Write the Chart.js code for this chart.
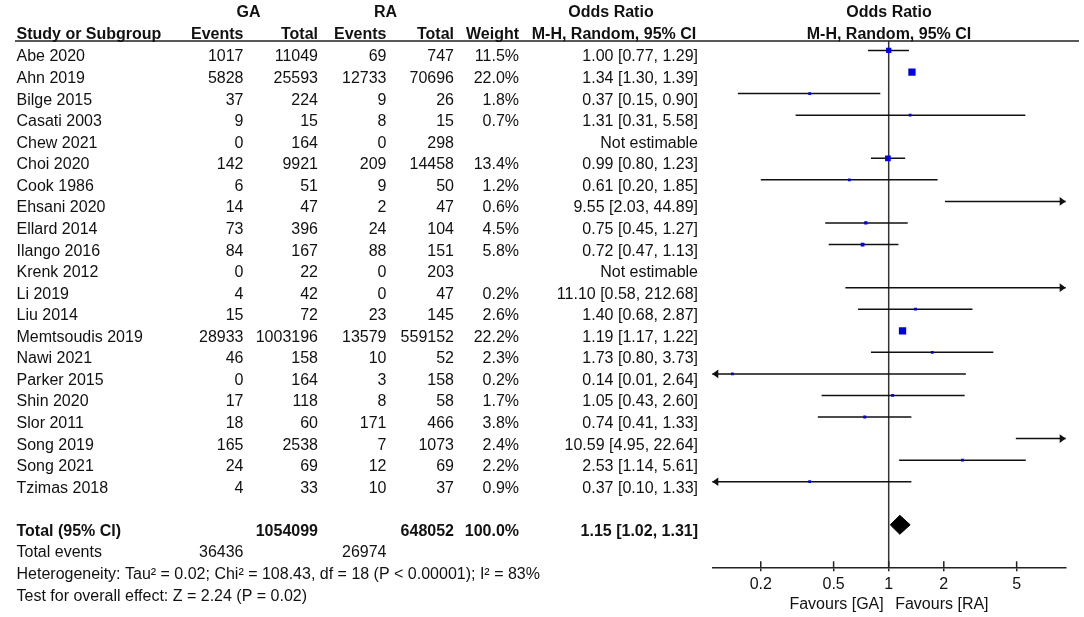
<!DOCTYPE html>
<html>
<head>
<meta charset="utf-8">
<title>Forest plot GA vs RA</title>
<script src="https://cdn.jsdelivr.net/npm/chart.js@4.4.1/dist/chart.umd.min.js"></script>
<style>
  html, body { margin: 0; padding: 0; background: #fff; }
  #wrap { width: 1084px; height: 617px; }
</style>
</head>
<body>
<div id="wrap"><canvas id="forest" width="1084" height="617"></canvas></div>
<script>
const studies = ['Abe 2020', 'Ahn 2019', 'Bilge 2015', 'Casati 2003', 'Chew 2021', 'Choi 2020',
  'Cook 1986', 'Ehsani 2020', 'Ellard 2014', 'Ilango 2016', 'Krenk 2012', 'Li 2019', 'Liu 2014',
  'Memtsoudis 2019', 'Nawi 2021', 'Parker 2015', 'Shin 2020', 'Slor 2011', 'Song 2019',
  'Song 2021', 'Tzimas 2018'];
const gaEvents = [1017, 5828, 37, 9, 0, 142, 6, 14, 73, 84, 0, 4, 15, 28933, 46, 0, 17, 18, 165, 24, 4];
const gaTotal = [11049, 25593, 224, 15, 164, 9921, 51, 47, 396, 167, 22, 42, 72, 1003196, 158, 164, 118, 60, 2538, 69, 33];
const raEvents = [69, 12733, 9, 8, 0, 209, 9, 2, 24, 88, 0, 0, 23, 13579, 10, 3, 8, 171, 7, 12, 10];
const raTotal = [747, 70696, 26, 15, 298, 14458, 50, 47, 104, 151, 203, 47, 145, 559152, 52, 158, 58, 466, 1073, 69, 37];
// weight in %, null = not estimable
const weights = [11.5, 22.0, 1.8, 0.7, null, 13.4, 1.2, 0.6, 4.5, 5.8, null, 0.2, 2.6, 22.2, 2.3, 0.2, 1.7, 3.8, 2.4, 2.2, 0.9];
const orEst = [1.00, 1.34, 0.37, 1.31, null, 0.99, 0.61, 9.55, 0.75, 0.72, null, 11.10, 1.40, 1.19, 1.73, 0.14, 1.05, 0.74, 10.59, 2.53, 0.37];
const orLow = [0.77, 1.30, 0.15, 0.31, null, 0.80, 0.20, 2.03, 0.45, 0.47, null, 0.58, 0.68, 1.17, 0.80, 0.01, 0.43, 0.41, 4.95, 1.14, 0.10];
const orHigh = [1.29, 1.39, 0.90, 5.58, null, 1.23, 1.85, 44.89, 1.27, 1.13, null, 212.68, 2.87, 1.22, 3.73, 2.64, 2.60, 1.33, 22.64, 5.61, 1.33];

const totalLabel = 'Total (95% CI)';
const totalParticipants = [1054099, 648052];
const totalWeight = 100.0;
const pooledOR = [1.15, 1.02, 1.31]; // estimate, lower, upper
const totalEvents = [36436, 26974];
const heterogeneityText = 'Heterogeneity: Tau\u00B2 = 0.02; Chi\u00B2 = 108.43, df = 18 (P < 0.00001); I\u00B2 = 83%';
const overallEffectText = 'Test for overall effect: Z = 2.24 (P = 0.02)';
const axisTicks = [0.2, 0.5, 1, 2, 5];
const favourLabels = ['Favours [GA]', 'Favours [RA]'];

const xMin = 0.1087, xMax = 9.27;
const FONT = '"Liberation Sans", Arial, Helvetica, sans-serif';
const INK = '#111';
const totalRow = studies.length + 1;

const fmt2 = (v) => v.toFixed(2);
const orText = (e, l, h) => (e == null ? 'Not estimable' : `${fmt2(e)} [${fmt2(l)}, ${fmt2(h)}]`);

// squares: only those whose estimate falls inside the axis
const squares = [];
studies.forEach((s, i) => {
  if (orEst[i] != null && orEst[i] >= xMin && orEst[i] <= xMax) {
    squares.push({ x: orEst[i], y: i, w: weights[i] });
  }
});

// one small line dataset per confidence interval
const ciSets = [];
studies.forEach((s, i) => {
  if (orEst[i] == null) return;
  ciSets.push({
    type: 'line',
    label: s,
    data: [{ x: orLow[i], y: i }, { x: orHigh[i], y: i }],
    borderColor: INK,
    borderWidth: 1.5,
    pointRadius: 0,
    fill: false,
    clip: 0,
    order: 3,
  });
});

const diamondHalf = 0.44; // in row units
const diamond = {
  type: 'line',
  label: 'pooled',
  data: [
    { x: pooledOR[1], y: totalRow },
    { x: pooledOR[0], y: totalRow - diamondHalf },
    { x: pooledOR[2], y: totalRow },
    { x: pooledOR[0], y: totalRow + diamondHalf },
    { x: pooledOR[1], y: totalRow },
  ],
  borderColor: '#000',
  backgroundColor: '#000',
  borderWidth: 1,
  pointRadius: 0,
  tension: 0,
  fill: 'shape',
  clip: false,
  order: 2,
};

const tablePlugin = {
  id: 'forestTable',
  beforeDatasetsDraw(chart) {
    const { ctx, chartArea: a, scales: { x } } = chart;
    ctx.save();
    // line of no effect
    const x1 = x.getPixelForValue(1);
    ctx.strokeStyle = '#333';
    ctx.lineWidth = 1.5;
    ctx.beginPath();
    ctx.moveTo(x1, a.top);
    ctx.lineTo(x1, a.bottom);
    ctx.stroke();
    ctx.restore();
  },
  afterDraw(chart) {
    const { ctx, chartArea: a, scales: { x, y } } = chart;
    const put = (str, px, py, align, bold) => {
      ctx.font = (bold ? 'bold ' : '') + '16px ' + FONT;
      ctx.textAlign = align;
      ctx.fillText(str, px, py);
    };
    const base = (row) => y.getPixelForValue(row) + 11;
    ctx.save();
    ctx.fillStyle = INK;
    ctx.textBaseline = 'alphabetic';

    // header rule
    ctx.strokeStyle = '#222';
    ctx.lineWidth = 1.5;
    ctx.beginPath();
    ctx.moveTo(15, a.top);
    ctx.lineTo(1079, a.top);
    ctx.stroke();

    // upper half of axis ticks
    axisTicks.forEach((v) => {
      const px = x.getPixelForValue(v);
      ctx.beginPath();
      ctx.moveTo(px, a.bottom - 6);
      ctx.lineTo(px, a.bottom);
      ctx.stroke();
    });

    // arrows for intervals running off the axis
    const arrow = (tip, py, dir) => {
      ctx.beginPath();
      ctx.moveTo(tip, py);
      ctx.lineTo(tip - dir * 6, py - 4.3);
      ctx.lineTo(tip - dir * 6, py + 4.3);
      ctx.closePath();
      ctx.fill();
    };
    studies.forEach((s, i) => {
      if (orEst[i] == null) return;
      const py = y.getPixelForValue(i);
      if (orLow[i] < xMin) arrow(a.left, py, -1);
      if (orHigh[i] > xMax) arrow(a.right, py, 1);
    });

    // headers
    const h1 = 17, h2 = 39.3;
    const xOR = (a.left + a.right) / 2;
    put('GA', 248.5, h1, 'center', true);
    put('RA', 385.5, h1, 'center', true);
    put('Odds Ratio', 611, h1, 'center', true);
    put('Odds Ratio', xOR, h1, 'center', true);
    put('Study or Subgroup', 16.5, h2, 'left', true);
    put('Events', 243.5, h2, 'right', true);
    put('Total', 318, h2, 'right', true);
    put('Events', 386.5, h2, 'right', true);
    put('Total', 454, h2, 'right', true);
    put('Weight', 519, h2, 'right', true);
    put('M-H, Random, 95% CI', 614, h2, 'center', true);
    put('M-H, Random, 95% CI', xOR, h2, 'center', true);

    // study rows
    studies.forEach((s, i) => {
      const py = base(i);
      put(s, 16.5, py, 'left', false);
      put(String(gaEvents[i]), 243.5, py, 'right', false);
      put(String(gaTotal[i]), 318, py, 'right', false);
      put(String(raEvents[i]), 386.5, py, 'right', false);
      put(String(raTotal[i]), 454, py, 'right', false);
      if (weights[i] != null) put(weights[i].toFixed(1) + '%', 519, py, 'right', false);
      put(orText(orEst[i], orLow[i], orHigh[i]), 698, py, 'right', false);
    });

    // totals
    let py = base(totalRow);
    put(totalLabel, 16.5, py, 'left', true);
    put(String(totalParticipants[0]), 318, py, 'right', true);
    put(String(totalParticipants[1]), 454, py, 'right', true);
    put(totalWeight.toFixed(1) + '%', 519, py, 'right', true);
    put(orText(pooledOR[0], pooledOR[1], pooledOR[2]), 698, py, 'right', true);

    py = base(totalRow + 1);
    put('Total events', 16.5, py, 'left', false);
    put(String(totalEvents[0]), 243.5, py, 'right', false);
    put(String(totalEvents[1]), 386.5, py, 'right', false);
    put(heterogeneityText, 16.5, base(totalRow + 2), 'left', false);
    put(overallEffectText, 16.5, base(totalRow + 3), 'left', false);

    // favours labels under the axis
    const x1 = x.getPixelForValue(1);
    put(favourLabels[0], x1 - 5, 609, 'right', false);
    put(favourLabels[1], x1 + 6.5, 609, 'left', false);
    ctx.restore();
  },
};

new Chart(document.getElementById('forest').getContext('2d'), {
  type: 'line',
  data: {
    datasets: [
      {
        type: 'scatter',
        label: 'Study OR',
        data: squares,
        showLine: false,
        pointStyle: 'rect',
        pointRadius: (c) => Math.max(2.8, 1.55 * Math.sqrt(c.raw ? c.raw.w : 1)) / Math.SQRT2,
        pointBackgroundColor: '#0000e6',
        pointBorderWidth: 0,
        clip: 0,
        order: 1,
      },
      diamond,
      ...ciSets,
    ],
  },
  options: {
    responsive: false,
    animation: false,
    events: [],
    layout: { padding: { left: 712.3, right: 18.3, top: 41, bottom: 18.5 } },
    plugins: { legend: { display: false }, tooltip: { enabled: false } },
    scales: {
      x: {
        type: 'logarithmic',
        min: xMin,
        max: xMax,
        afterBuildTicks: (scale) => {
          scale.ticks = axisTicks.map((v) => ({ value: v }));
        },
        grid: { display: true, drawOnChartArea: false, drawTicks: true, tickLength: 4, color: '#222', lineWidth: 1.5 },
        border: { display: true, color: '#222', width: 1.5 },
        ticks: {
          autoSkip: false,
          maxRotation: 0,
          padding: 4,
          color: INK,
          font: { family: FONT, size: 16 },
          callback: (v) => String(v),
        },
      },
      y: {
        type: 'linear',
        display: false,
        reverse: true,
        min: -0.44,
        max: 23.97,
      },
    },
  },
  plugins: [tablePlugin],
});
</script>
</body>
</html>
